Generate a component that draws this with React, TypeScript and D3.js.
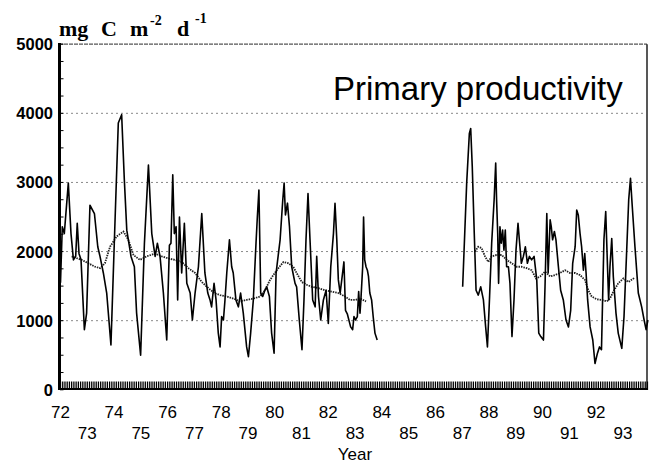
import React from 'react';
import * as d3 from 'd3';

// months since January 1972 (fractional) and primary productivity (mg C m-2 d-1)
const raw1Months = [0, 0.8, 1.7, 3.5, 4.7, 5.8, 6.8, 7.5, 8.3, 9.2, 10.7, 11.7, 13.2, 15.2, 16.7, 17.7, 19.2, 20.7, 22.6, 24.1, 25.9, 27.4, 28.6, 29.7, 31.6, 33.1, 34.1, 35.9, 37.6, 39.4, 40.9, 42.4, 43.4, 44.6, 46.1, 47.6, 48.8, 49.5, 50.3, 51.0, 51.8, 52.5, 53.3, 54.3, 55.5, 56.6, 58.1, 59.1, 60.3, 61.8, 63.3, 64.7, 66.0, 67.0, 67.7, 68.8, 69.7, 70.7, 71.5, 72.2, 73.0, 73.7, 74.5, 75.7, 76.7, 77.4, 78.6, 79.7, 80.7, 81.9, 83.4, 84.2, 85.2, 86.4, 87.6, 88.2, 88.9, 89.7, 90.6, 91.6, 92.4, 93.6, 94.6, 95.7, 96.6, 98.4, 99.6, 100.2, 100.8, 101.7, 102.6, 103.6, 105.1, 105.8, 107.0, 108.2, 109.1, 110.0, 110.9, 111.8, 113.0, 114.1, 114.8, 115.6, 116.6, 117.8, 119.0, 120.0, 121.1, 122.3, 123.0, 123.8, 124.5, 125.3, 127.0, 127.7, 128.5, 130.0, 130.9, 131.5, 132.2, 133.0, 133.6, 134.2, 134.6, 135.4, 135.8, 136.3, 136.9, 137.5, 138.0, 138.6, 139.4, 140.1, 140.9, 141.9];
const raw1Values = [1550, 2360, 2260, 2990, 2260, 1880, 1930, 2410, 1970, 1880, 870, 1110, 2670, 2550, 2070, 1930, 1690, 1400, 650, 2120, 3860, 3980, 3040, 2310, 1930, 1780, 1110, 500, 2120, 3250, 2260, 1930, 2120, 1930, 1400, 720, 2090, 2120, 3110, 2260, 2360, 1300, 2500, 1690, 2410, 1540, 1400, 1010, 1400, 1780, 2550, 1690, 1400, 1300, 1200, 1540, 1300, 820, 620, 1060, 1010, 1300, 1690, 2170, 1780, 1690, 1300, 1200, 1400, 1110, 620, 480, 820, 1300, 2120, 2500, 2890, 1400, 1350, 1440, 1490, 1350, 820, 530, 1690, 2170, 2750, 2990, 2530, 2700, 2360, 1780, 1540, 1490, 1010, 580, 1300, 2170, 2840, 2170, 1300, 1200, 1930, 1350, 1010, 1300, 1440, 960, 1780, 2260, 2700, 2170, 1590, 1400, 1850, 1150, 1100, 910, 870, 1060, 1010, 1060, 1420, 1110, 1300, 1780, 2500, 1880, 1780, 1730, 1640, 1400, 1300, 1060, 820, 720];

const raw2Months = [180.2, 182.0, 183.2, 183.8, 184.5, 185.4, 186.2, 187.2, 188.3, 189.5, 190.5, 191.3, 192.2, 193.2, 194.3, 195.0, 195.4, 195.9, 196.3, 196.9, 197.5, 198.1, 198.7, 199.3, 199.9, 200.7, 201.4, 202.3, 203.2, 204.1, 205.0, 205.6, 206.5, 207.4, 208.3, 209.2, 210.1, 211.1, 212.2, 213.4, 214.3, 215.2, 216.4, 217.1, 217.9, 218.5, 219.4, 219.9, 220.5, 221.3, 222.0, 223.1, 224.1, 225.3, 226.5, 227.6, 228.6, 229.5, 230.6, 231.3, 232.0, 232.8, 233.5, 234.3, 234.9, 235.5, 236.2, 237.3, 238.5, 239.5, 240.6, 241.5, 242.4, 242.9, 243.5, 244.3, 245.0, 245.6, 246.2, 247.0, 247.7, 248.9, 249.9, 251.5, 252.5, 253.7, 254.6, 255.4, 256.1, 257.4, 258.9, 260.4, 261.5, 262.4, 263.2];
const raw2Values = [1490, 2990, 3710, 3780, 3230, 2260, 1440, 1370, 1490, 1300, 910, 620, 1300, 2120, 2750, 3280, 2750, 2260, 1540, 2360, 2120, 2310, 2020, 2310, 1780, 1780, 1540, 770, 1300, 2020, 2410, 2170, 1830, 1930, 2070, 1830, 1930, 1880, 1930, 1590, 820, 770, 720, 1490, 2550, 1690, 2460, 2360, 2170, 2290, 2170, 1780, 1440, 1300, 1010, 910, 1150, 1830, 2070, 2600, 2530, 2260, 2070, 1730, 1970, 1690, 1300, 910, 720, 380, 530, 620, 580, 1300, 2170, 2580, 1880, 1300, 1780, 2190, 1640, 1110, 820, 600, 1060, 2020, 2750, 3060, 2700, 2070, 1400, 1200, 1010, 870, 1010];

const smooth1Months = [5.0, 9.5, 12.5, 15.5, 17.7, 19.9, 22.2, 25.2, 28.2, 30.4, 32.7, 35.6, 38.6, 42.4, 45.4, 48.3, 51.3, 54.3, 57.3, 60.3, 63.3, 66.3, 68.9, 71.5, 74.5, 77.5, 80.4, 83.4, 86.4, 89.4, 91.6, 93.9, 96.9, 99.9, 102.1, 104.3, 105.8, 108.1, 110.3, 112.6, 115.6, 118.5, 121.5, 124.5, 127.5, 129.7, 132.0, 134.2, 136.9];
const smooth1Values = [1930, 1880, 1830, 1780, 1760, 1830, 2070, 2220, 2290, 2170, 1950, 1880, 1930, 1970, 1930, 1900, 1880, 1850, 1760, 1690, 1560, 1470, 1400, 1370, 1350, 1320, 1280, 1300, 1320, 1350, 1440, 1590, 1730, 1850, 1830, 1780, 1690, 1560, 1520, 1490, 1470, 1440, 1420, 1400, 1350, 1300, 1300, 1320, 1280];

const smooth2Months = [185.7, 187.2, 188.7, 190.2, 191.7, 193.2, 195.4, 197.7, 199.9, 202.2, 204.4, 206.6, 208.9, 211.1, 213.1, 214.9, 217.1, 219.4, 221.6, 223.8, 226.1, 228.3, 230.6, 232.8, 235.0, 236.5, 238.0, 240.3, 242.5, 244.8, 246.2, 247.7, 249.9, 252.2, 254.5, 256.7, 257.1];
const smooth2Values = [2000, 2070, 2050, 1930, 1850, 1930, 1950, 1950, 1880, 1830, 1780, 1780, 1760, 1730, 1610, 1640, 1710, 1640, 1660, 1690, 1730, 1690, 1690, 1660, 1590, 1440, 1350, 1310, 1300, 1280, 1320, 1420, 1540, 1610, 1560, 1610, 1600];

const yLabels = [0, 1000, 2000, 3000, 4000, 5000];
const gridValues = [1000, 2000, 3000, 4000];
const yearLabels = ['72', '73', '74', '75', '76', '77', '78', '79', '80', '81', '82', '83', '84', '85', '86', '87', '88', '89', '90', '91', '92', '93'];

const W = 649;
const H = 464;

export default function App() {
  const x = d3.scaleLinear().domain([0, 263.2]).range([60.5, 647.9]);
  const y = d3.scaleLinear().domain([0, 5000]).range([389.8, 44.2]);

  const line = d3
    .line<[number, number]>()
    .x((d) => x(d[0]))
    .y((d) => y(d[1]));

  const zip = (a: number[], b: number[]) => a.map((m, i) => [m, b[i]] as [number, number]);

  const monthTicks = d3.range(0, 264);
  const minorY = d3.range(0, 5001, 250);
  const sans = "'Liberation Sans', Arial, sans-serif";
  const serif = "'Liberation Serif', 'Times New Roman', serif";

  return (
    <svg width={W} height={H} style={{ position: 'absolute', left: 0, top: 0, background: '#fff' }}>
      <rect x={0} y={0} width={W} height={H} fill="#fff" />
      {/* grid */}
      {gridValues.map((v) => (
        <line key={v} x1={61} x2={646} y1={y(v)} y2={y(v)} stroke="#8a8a8a" strokeWidth={1} strokeDasharray="2,3" />
      ))}
      {/* top border */}
      <line x1={59} x2={647} y1={y(5000)} y2={y(5000)} stroke="#555" strokeWidth={1.2} strokeDasharray="4,1" />
      {/* right border */}
      <line x1={647} x2={647} y1={y(5000)} y2={390} stroke="#111" strokeWidth={1.4} />

      {/* smoothed series */}
      <path d={line(zip(smooth1Months, smooth1Values)) || ''} fill="none" stroke="#222" strokeWidth={1.8} strokeDasharray="1.5,1" />
      <path d={line(zip(smooth2Months, smooth2Values)) || ''} fill="none" stroke="#222" strokeWidth={1.8} strokeDasharray="1.5,1" />
      {/* raw series */}
      <path d={line(zip(raw1Months, raw1Values)) || ''} fill="none" stroke="#000" strokeWidth={1.6} strokeLinejoin="round" />
      <path d={line(zip(raw2Months, raw2Values)) || ''} fill="none" stroke="#000" strokeWidth={1.6} strokeLinejoin="round" />

      {/* left axis */}
      <line x1={59.5} x2={59.5} y1={43} y2={390} stroke="#000" strokeWidth={3} />
      {minorY.map((v) => (
        <line key={v} x1={60} x2={63.5} y1={y(v)} y2={y(v)} stroke="#000" strokeWidth={1} />
      ))}
      {yLabels.map((v) => (
        <text key={v} x={53} y={y(v) + 6} textAnchor="end" fontFamily={sans} fontWeight="bold" fontSize={16.5} fill="#000">
          {v}
        </text>
      ))}

      {/* bottom axis */}
      <line x1={58} x2={648} y1={389} y2={389} stroke="#000" strokeWidth={2} />
      {monthTicks.map((m) => (
        <line key={m} x1={x(m)} x2={x(m)} y1={381.5} y2={390} stroke="#000" strokeWidth={1.3} />
      ))}
      {yearLabels.map((lab, i) => (
        <text key={lab} x={x(i * 12)} y={i % 2 === 0 ? 418 : 439} textAnchor="middle" fontFamily={sans} fontSize={17} fill="#000">
          {lab}
        </text>
      ))}
      <text x={355} y={460} textAnchor="middle" fontFamily={sans} fontSize={17} fill="#000">
        Year
      </text>

      {/* unit title */}
      <g fontFamily={serif} fontWeight="bold" fill="#000">
        <text x={59} y={36} fontSize={22}>mg</text>
        <text x={101} y={36} fontSize={22}>C</text>
        <text x={130} y={36} fontSize={22}>m</text>
        <text x={150} y={25} fontSize={14}>-2</text>
        <text x={177} y={36} fontSize={22}>d</text>
        <text x={195} y={23} fontSize={14}>-1</text>
      </g>

      <text x={333} y={99.5} fontFamily={sans} fontSize={33} fill="#000">
        Primary productivity
      </text>
    </svg>
  );
}
